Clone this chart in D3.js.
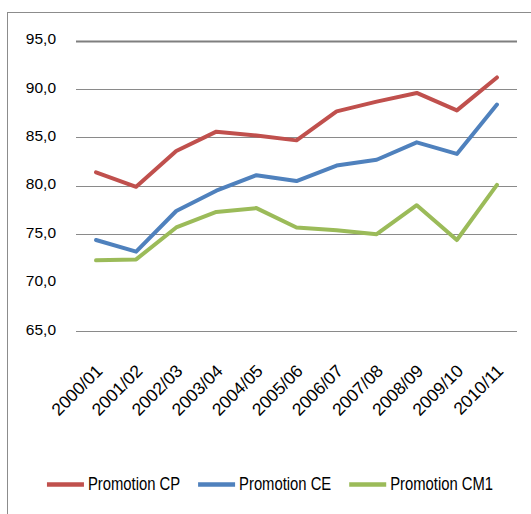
<!DOCTYPE html>
<html>
<head>
<meta charset="utf-8">
<script src="https://cdn.jsdelivr.net/npm/d3@7"></script>
<style>
  html, body { margin: 0; padding: 0; background: #fff; }
  svg { display: block; }
  .lbl { font-family: "Liberation Sans", Arimo, Arial, sans-serif; fill: #000; }
</style>
</head>
<body>
<svg id="chart" width="531" height="514"></svg>
<script>
// School years on the horizontal axis
const years = ["2000/01", "2001/02", "2002/03", "2003/04", "2004/05", "2005/06",
               "2006/07", "2007/08", "2008/09", "2009/10", "2010/11"];

// Series values (percent)
const promotionCP  = [81.4, 79.9, 83.6, 85.6, 85.2, 84.7, 87.7, 88.7, 89.6, 87.8, 91.2];
const promotionCE  = [74.4, 73.2, 77.4, 79.5, 81.1, 80.5, 82.1, 82.7, 84.5, 83.3, 88.4];
const promotionCM1 = [72.3, 72.4, 75.7, 77.3, 77.7, 75.7, 75.4, 75.0, 78.0, 74.4, 80.1];

const seriesNames = ["Promotion CP", "Promotion CE", "Promotion CM1"];
const seriesColors = ["#C0504D", "#4F81BD", "#9BBB59"];

// Vertical axis ticks and the horizontal rules drawn across the plot
const yTicks = [65, 70, 75, 80, 85, 90, 95];
const gridValues = [65, 75, 80, 85, 90, 95];

const series = [promotionCP, promotionCE, promotionCM1].map((values, i) => ({
  name: seriesNames[i],
  color: seriesColors[i],
  values: values
}));

const svg = d3.select("#chart");

const plot = { left: 76, right: 517, top: 40.7, bottom: 331 };

const x = d3.scalePoint()
  .domain(years)
  .range([plot.left, plot.right])
  .padding(0.5);

const y = d3.scaleLinear()
  .domain([65, 95])
  .range([plot.bottom, plot.top]);

// Chart area frame
svg.append("rect")
  .attr("x", 7.5).attr("y", 12.5)
  .attr("width", 600).attr("height", 600)
  .attr("fill", "none")
  .attr("stroke", "#8c8c8c")
  .attr("stroke-width", 1);

// Horizontal rules
svg.append("g")
  .selectAll("line")
  .data(gridValues)
  .join("line")
  .attr("x1", plot.left).attr("x2", plot.right)
  .attr("y1", d => Math.round(y(d)) + 0.5)
  .attr("y2", d => Math.round(y(d)) + 0.5)
  .attr("stroke", d => d === 95 ? "#7f7f7f" : "#8a8a8a")
  .attr("stroke-width", d => d === 95 ? 2 : 1);

// Vertical axis labels
const fmt = v => d3.format(".1f")(v).replace(".", ",");
const yAxis = d3.axisLeft(y)
  .tickValues(yTicks)
  .tickFormat(fmt)
  .tickSize(0)
  .tickPadding(20);

svg.append("g")
  .attr("transform", `translate(${plot.left},0)`)
  .call(yAxis)
  .call(g => g.select(".domain").remove())
  .call(g => g.selectAll("text")
    .attr("class", "lbl")
    .style("font-size", "15.5px")
    .attr("dy", "0.2em"));

// Horizontal axis labels, rotated
const xAxis = d3.axisBottom(x).tickSize(0).tickPadding(0);
svg.append("g")
  .attr("transform", `translate(0,${plot.bottom})`)
  .call(xAxis)
  .call(g => g.select(".domain").remove())
  .call(g => g.selectAll("text")
    .attr("class", "lbl")
    .style("font-size", "17.5px")
    .attr("text-anchor", "end")
    .attr("dy", 0)
    .attr("y", 0)
    .attr("transform", "translate(7,41) rotate(-45)"));

// Series lines
const line = d3.line()
  .x((d, i) => x(years[i]))
  .y(d => y(d));

svg.append("g")
  .selectAll("path")
  .data(series)
  .join("path")
  .attr("d", d => line(d.values))
  .attr("fill", "none")
  .attr("stroke", d => d.color)
  .attr("stroke-width", 4)
  .attr("stroke-linejoin", "round")
  .attr("stroke-linecap", "round");

// Legend: tall, condensed lettering
const legend = svg.append("g").attr("class", "legend");
const sampleLen = 37, sampleGap = 4, itemGap = 18, squeeze = 0.78;
const items = legend.selectAll("g")
  .data(series)
  .join("g");

items.append("line")
  .attr("x1", 0).attr("x2", sampleLen)
  .attr("y1", 0).attr("y2", 0)
  .attr("stroke", d => d.color)
  .attr("stroke-width", 4.5);

items.append("text")
  .attr("class", "lbl")
  .style("font-size", "19px")
  .attr("x", 0)
  .attr("y", 0)
  .attr("transform", `translate(${sampleLen + sampleGap},5.5) scale(${squeeze},1)`)
  .text(d => d.name);

let offset = 0;
const widths = [];
items.each(function () {
  const w = sampleLen + sampleGap + squeeze * d3.select(this).select("text").node().getComputedTextLength();
  widths.push(w);
});
const total = d3.sum(widths) + itemGap * (widths.length - 1);
const startX = 270 - total / 2;
items.attr("transform", (d, i) => {
  const tx = startX + offset;
  offset += widths[i] + itemGap;
  return `translate(${tx},484.5)`;
});
</script>
</body>
</html>
